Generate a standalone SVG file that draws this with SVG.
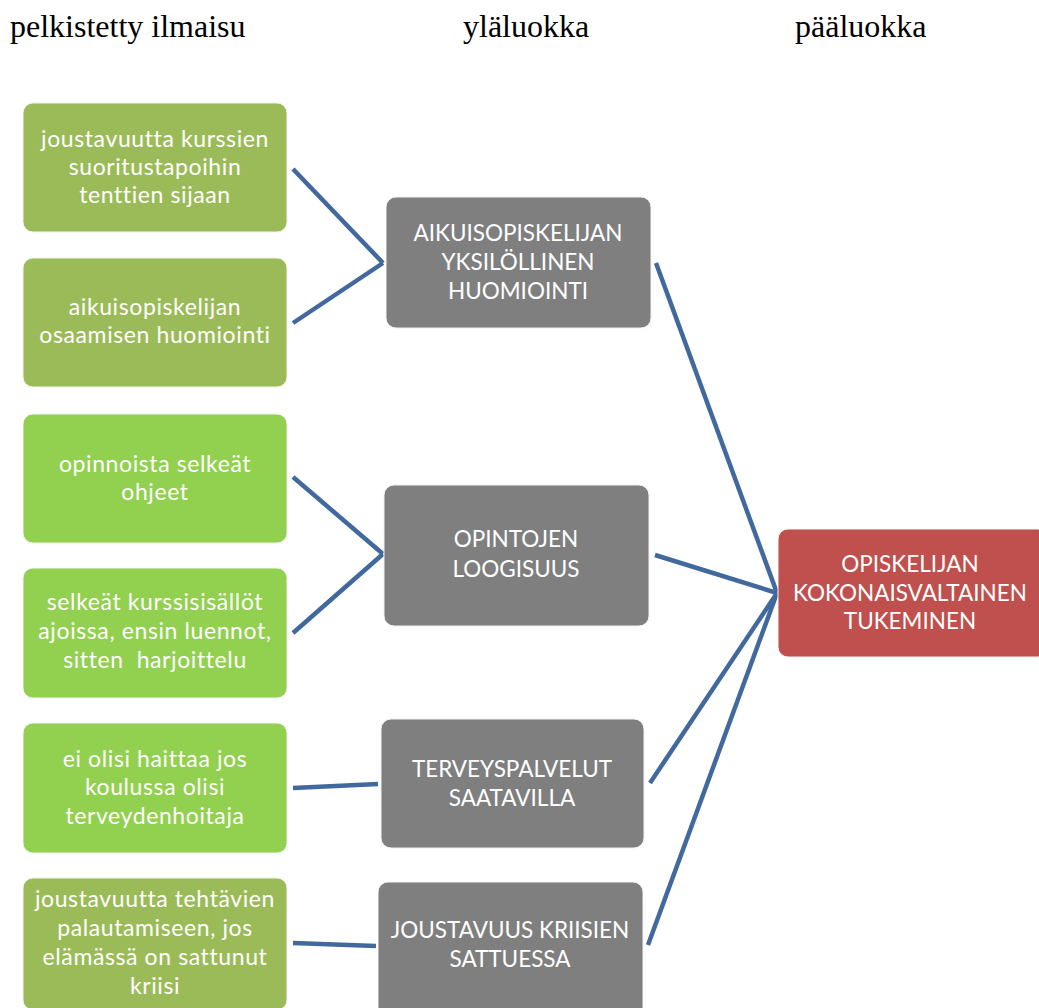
<svg xmlns="http://www.w3.org/2000/svg" width="1039" height="1008" viewBox="0 0 1039 1008">
  <style>
    .hdr { font-family: "Liberation Serif", "Times New Roman", serif; font-size: 32px; fill: #000; }
    .box { stroke: #f2f2f2; stroke-width: 1; }
    .olive { fill: #9BBB59; }
    .lime { fill: #92D050; }
    .grey { fill: #7F7F7F; }
    .red { fill: #C0504D; }
    .lbl { font-family: Lato, "Open Sans", "Liberation Sans", sans-serif; font-size: 22.5px; fill: #fff; text-anchor: middle; }
    .low { font-size: 23px; letter-spacing: 0.6px; }
    .conn line { stroke: #41699E; stroke-width: 4.5; stroke-linecap: butt; }
  </style>

  <!-- column headings -->
  <text class="hdr" x="10" y="37">pelkistetty ilmaisu</text>
  <text class="hdr" x="463" y="37">yläluokka</text>
  <text class="hdr" x="795" y="37">pääluokka</text>

  <!-- connectors -->
  <g id="connectors" class="conn">
    <line x1="293" y1="169" x2="383" y2="263"/>
    <line x1="293" y1="323" x2="383" y2="263"/>
    <line x1="293" y1="477" x2="383" y2="554"/>
    <line x1="293" y1="633" x2="383" y2="554"/>
    <line x1="293" y1="788" x2="378" y2="784"/>
    <line x1="293" y1="943" x2="376" y2="946"/>
    <line x1="656" y1="263" x2="777" y2="593"/>
    <line x1="655" y1="555" x2="777" y2="593"/>
    <line x1="650" y1="783" x2="777" y2="593"/>
    <line x1="648" y1="945" x2="777" y2="593"/>
  </g>

  <!-- reduced expressions -->
  <g id="p1">
    <rect class="box olive" x="23" y="103" width="264" height="129" rx="10"/>
    <text class="lbl low"><tspan x="155" y="147">joustavuutta kurssien</tspan><tspan x="155" y="175">suoritustapoihin</tspan><tspan x="155" y="203">tenttien sijaan</tspan></text>
  </g>
  <g id="p2">
    <rect class="box olive" x="23" y="258" width="264" height="129" rx="10"/>
    <text class="lbl low"><tspan x="155" y="315">aikuisopiskelijan</tspan><tspan x="155" y="343">osaamisen huomiointi</tspan></text>
  </g>
  <g id="p3">
    <rect class="box lime" x="23" y="414" width="264" height="129" rx="10"/>
    <text class="lbl low"><tspan x="155" y="472">opinnoista selkeät</tspan><tspan x="155" y="500">ohjeet</tspan></text>
  </g>
  <g id="p4">
    <rect class="box lime" x="23" y="568" width="264" height="130" rx="10"/>
    <text class="lbl low" xml:space="preserve"><tspan x="155" y="610">selkeät kurssisisällöt</tspan><tspan x="155" y="639">ajoissa, ensin luennot,</tspan><tspan x="155" y="668">sitten  harjoittelu</tspan></text>
  </g>
  <g id="p5">
    <rect class="box lime" x="23" y="723" width="264" height="130" rx="10"/>
    <text class="lbl low"><tspan x="155" y="767">ei olisi haittaa jos</tspan><tspan x="155" y="795">koulussa olisi</tspan><tspan x="155" y="824">terveydenhoitaja</tspan></text>
  </g>
  <g id="p6">
    <rect class="box olive" x="23" y="878" width="264" height="132" rx="10"/>
    <text class="lbl low"><tspan x="155" y="907">joustavuutta tehtävien</tspan><tspan x="155" y="936">palautamiseen, jos</tspan><tspan x="155" y="965">elämässä on sattunut</tspan><tspan x="155" y="994">kriisi</tspan></text>
  </g>

  <!-- upper categories -->
  <g id="y1">
    <rect class="box grey" x="386" y="197" width="265" height="131" rx="10"/>
    <text class="lbl"><tspan x="518" y="241">AIKUISOPISKELIJAN</tspan><tspan x="518" y="270">YKSILÖLLINEN</tspan><tspan x="518" y="299">HUOMIOINTI</tspan></text>
  </g>
  <g id="y2">
    <rect class="box grey" x="384" y="485" width="265" height="141" rx="10"/>
    <text class="lbl"><tspan x="516" y="547">OPINTOJEN</tspan><tspan x="516" y="577">LOOGISUUS</tspan></text>
  </g>
  <g id="y3">
    <rect class="box grey" x="381" y="719" width="263" height="129" rx="10"/>
    <text class="lbl"><tspan x="512" y="777">TERVEYSPALVELUT</tspan><tspan x="512" y="806">SAATAVILLA</tspan></text>
  </g>
  <g id="y4">
    <rect class="box grey" x="378" y="882" width="265" height="140" rx="10"/>
    <text class="lbl"><tspan x="510" y="938">JOUSTAVUUS KRIISIEN</tspan><tspan x="510" y="967">SATTUESSA</tspan></text>
  </g>

  <!-- main category -->
  <g id="main">
    <rect class="box red" x="778" y="529" width="270" height="128" rx="10"/>
    <text class="lbl"><tspan x="910" y="572">OPISKELIJAN</tspan><tspan x="910" y="601">KOKONAISVALTAINEN</tspan><tspan x="910" y="629">TUKEMINEN</tspan></text>
  </g>
</svg>
